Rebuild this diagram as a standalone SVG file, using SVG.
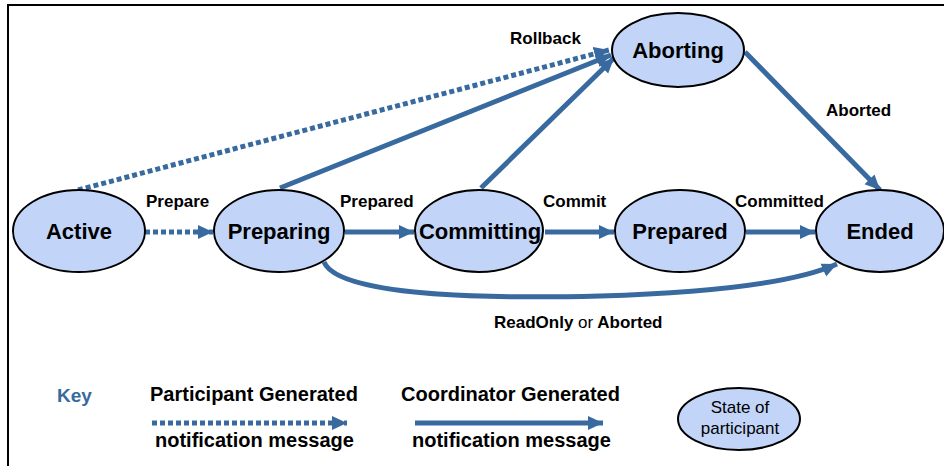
<svg xmlns="http://www.w3.org/2000/svg" width="944" height="466" viewBox="0 0 944 466">
  <defs>
    <style>
      .state { fill: #c2d5f8; stroke: #000; stroke-width: 2; }
      .name { font-family: "Liberation Sans", Arial, sans-serif; font-weight: bold; font-size: 22px; text-anchor: middle; fill: #000; }
      .lbl { font-family: "Liberation Sans", Arial, sans-serif; font-weight: bold; font-size: 17px; fill: #000; }
      .key { font-family: "Liberation Sans", Arial, sans-serif; font-weight: bold; font-size: 20px; fill: #000; }
      .solid { fill: none; stroke: #386aa0; stroke-width: 5; marker-end: url(#head); }
      .dotted { fill: none; stroke: #386aa0; stroke-width: 5; stroke-dasharray: 5 3; marker-end: url(#head); }
    </style>
    <marker id="head" markerUnits="userSpaceOnUse" markerWidth="16" markerHeight="16" refX="15" refY="8" orient="auto">
      <path d="M0,1 L15,8 L0,15 z" fill="#386aa0"/>
    </marker>
  </defs>

  <rect width="944" height="466" fill="#fff"/>
  <!-- frame -->
  <path d="M8,466 L8,5 L944,5" fill="none" stroke="#000" stroke-width="2"/>

  <g id="connectors">
    <path class="dotted" d="M78,190 L609,50"/>
    <path class="solid" d="M280,188 L611,55"/>
    <path class="solid" d="M481,188 L614,58"/>
    <path class="solid" d="M745,52 L880,190"/>
    <path class="dotted" d="M145,232 L213,232"/>
    <path class="solid" d="M345,232 L414,232"/>
    <path class="solid" d="M545,232 L614,232"/>
    <path class="solid" d="M746,232 L815,232"/>
    <path class="solid" d="M324,262 C340,300 520,298 600,296 C700,293 790,285 837,264"/>
  </g>

  <g id="labels">
    <text class="lbl" x="510" y="44">Rollback</text>
    <text class="lbl" x="146" y="207">Prepare</text>
    <text class="lbl" x="340" y="207">Prepared</text>
    <text class="lbl" x="543" y="207">Commit</text>
    <text class="lbl" x="735" y="207">Committed</text>
    <text class="lbl" x="826" y="116">Aborted</text>
    <text class="lbl" x="494" y="328">ReadOnly <tspan font-weight="normal">or</tspan> Aborted</text>
  </g>

  <g id="active">
    <ellipse class="state" cx="79" cy="231" rx="66" ry="41"/>
    <text class="name" x="79" y="239">Active</text>
  </g>
  <g id="preparing">
    <ellipse class="state" cx="279" cy="231" rx="65" ry="41"/>
    <text class="name" x="279" y="239">Preparing</text>
  </g>
  <g id="committing">
    <ellipse class="state" cx="479" cy="231" rx="64" ry="41"/>
    <text class="name" x="480" y="239">Committing</text>
  </g>
  <g id="prepared">
    <ellipse class="state" cx="680" cy="231" rx="65" ry="41"/>
    <text class="name" x="680" y="239">Prepared</text>
  </g>
  <g id="ended">
    <ellipse class="state" cx="880" cy="231" rx="64" ry="41"/>
    <text class="name" x="880" y="239">Ended</text>
  </g>
  <g id="aborting">
    <ellipse class="state" cx="678" cy="50" rx="66" ry="37"/>
    <text class="name" x="678" y="58">Aborting</text>
  </g>

  <g id="legend">
    <text x="57" y="402" font-family="Liberation Sans, Arial, sans-serif" font-weight="bold" font-size="19" fill="#386aa0">Key</text>
    <text class="key" x="150" y="401">Participant Generated</text>
    <path class="dotted" d="M152,423 L347,423"/>
    <text class="key" x="155" y="447">notification message</text>
    <text class="key" x="401" y="401">Coordinator Generated</text>
    <path class="solid" d="M415,423 L603,423"/>
    <text class="key" x="412" y="447">notification message</text>
    <g id="legend-state">
      <ellipse class="state" cx="739" cy="419" rx="61" ry="31"/>
      <text x="740" y="413" font-family="Liberation Sans, Arial, sans-serif" font-size="17" text-anchor="middle">State of</text>
      <text x="740" y="434" font-family="Liberation Sans, Arial, sans-serif" font-size="17" text-anchor="middle">participant</text>
    </g>
  </g>
</svg>
